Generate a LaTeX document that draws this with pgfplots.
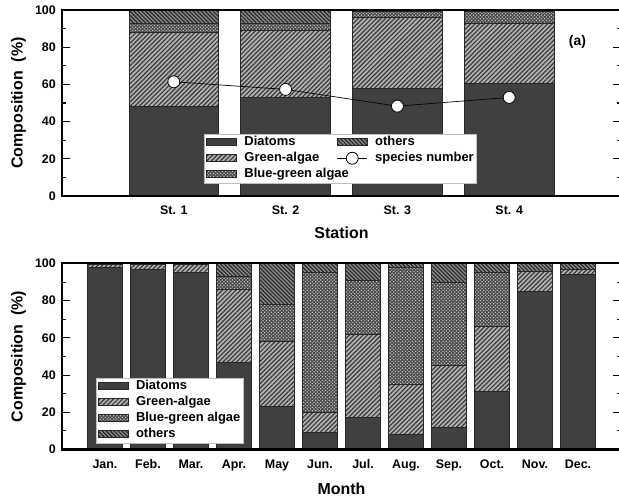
\documentclass[border=0pt]{standalone}
\usepackage{fontspec}
\setmainfont{Liberation Sans}
\usepackage{pgfplots}
\pgfplotsset{compat=1.18}
\usetikzlibrary{patterns.meta}
\definecolor{dia}{HTML}{404040}
\tikzset{
 diat/.style={fill=dia, draw=black!85, line width=0.8bp},
 gre/.style={fill=black!30, draw=black!85, line width=0.8bp, postaction={pattern={Lines[angle=45,distance=3.2bp,line width=1.2bp]}, pattern color=black!78}},
 blu/.style={fill=black!73, draw=black!85, line width=0.8bp, postaction={pattern={Dots[angle=45,distance=2.4bp,radius=0.85bp]}, pattern color=black!22}},
 oth/.style={fill=black!45, draw=black!85, line width=0.8bp, postaction={pattern={Lines[angle=-45,distance=2.8bp,line width=1.2bp]}, pattern color=black!85}},
 spec/.style={black, line width=0.7bp, mark=*, mark size=6bp, mark options={fill=white, draw=black, line width=0.8bp}},
}
\pgfplotsset{
 arealeg/.style={legend image code/.code={\draw[##1] (0bp,-3.5bp) rectangle (30bp,3.5bp);}},
 linelegend/.style={legend image code/.code={\draw[black, line width=0.7bp] (0bp,0bp) -- (30bp,0bp); \draw[black, fill=white, line width=0.8bp] (15bp,0bp) circle (6bp);}},
 comp/.style={
  scale only axis, width=559bp, height=186bp,
  ymin=0, ymax=100, ytick={0,20,...,100}, minor y tick num=1,
  ybar stacked, bar width=0.8,
  tick align=inside, xtick style={draw=none},
  major tick length=8bp, minor tick length=4bp,
  axis line style={line width=2bp},
  every tick/.style={line width=1.1bp, black},
  axis on top,
  /pgf/number format/assume math mode=true,
  tick label style={font=\fontsize{12.5}{13}\selectfont\bfseries},
  yticklabel style={inner sep=0pt, xshift=-6bp},
  xticklabel style={inner sep=0pt, anchor=north, yshift=-10bp},
  every axis x label/.style={at={(axis description cs:0.5,0)}, anchor=north, inner sep=0pt, font=\fontsize{16}{16}\selectfont\bfseries},
  every axis y label/.style={at={(axis description cs:0,0.5)}, xshift=-43.5bp, rotate=90, anchor=center, inner sep=0pt, font=\fontsize{16}{16}\selectfont\bfseries},
  legend cell align=left,
  legend style={draw=black!25, line width=0.4bp, fill=white, inner sep=2bp,
    font=\fontsize{13}{13}\selectfont\bfseries,
    nodes={inner sep=0.5bp, text height=9.5bp, text depth=2.5bp},
    row sep=3bp,
    /tikz/column 1/.style={column sep=7bp},
    /tikz/column 2/.style={column sep=17bp},
    /tikz/column 3/.style={column sep=7bp}},
 }
}
\begin{document}
\begin{tikzpicture}
\useasboundingbox (0,0) rectangle (619bp,499bp);
% ---------- (a) ----------
\begin{axis}[comp, at={(62bp,303bp)}, anchor=south west,
  xmin=0, xmax=5, xtick={1,2,3,4}, xticklabels={St. 1,St. 2,St. 3,St. 4},
  xlabel={Station}, xlabel style={yshift=-31bp},
  ylabel={Composition~~(\%)},
  legend columns=2,
  legend style={at={(0.254,0.07)}, anchor=south west}]
\addlegendimage{diat, arealeg}\addlegendentry{Diatoms}
\addlegendimage{oth, arealeg}\addlegendentry{others}
\addlegendimage{gre, arealeg}\addlegendentry{Green-algae}
\addlegendimage{spec, linelegend}\addlegendentry{species number}
\addlegendimage{blu, arealeg}\addlegendentry{\rlap{Blue-green algae}}
\addplot[diat] coordinates {(1,48) (2,53) (3,58) (4,60.5)};
\addplot[gre]  coordinates {(1,40) (2,36) (3,38) (4,32.5)};
\addplot[blu]  coordinates {(1,5) (2,4) (3,3) (4,6)};
\addplot[oth]  coordinates {(1,7) (2,7) (3,1) (4,1)};
\node[font=\fontsize{14}{14}\selectfont\bfseries] at (axis cs:4.61,83) {(a)};
\end{axis}
\begin{axis}[scale only axis, width=559bp, height=186bp, at={(62bp,303bp)}, anchor=south west,
  xmin=0, xmax=5, ymin=0, ymax=100, hide axis, clip=false]
\addplot[spec] coordinates {(1,61.4) (2,57.3) (3,48.3) (4,53)};
\end{axis}
% ---------- (b) ----------
\begin{axis}[comp, at={(62bp,49.5bp)}, anchor=south west,
  xmin=0, xmax=13, xtick={1,...,12},
  xticklabels={Jan.,Feb.,Mar.,Apr.,May,Jun.,Jul.,Aug.,Sep.,Oct.,Nov.,Dec.},
  xlabel={Month}, xlabel style={yshift=-33.5bp},
  ylabel={Composition~~(\%)},
  legend style={at={(0.060,0.035)}, anchor=south west}]
\addplot[diat, arealeg] coordinates {(1,98) (2,97) (3,95) (4,47) (5,23) (6,9) (7,17) (8,8) (9,12) (10,31) (11,85) (12,94)};
\addlegendentry{Diatoms}
\addplot[gre, arealeg] coordinates {(1,1.5) (2,2.5) (3,4.5) (4,39) (5,35) (6,11) (7,45) (8,27) (9,33) (10,35) (11,10.5) (12,3)};
\addlegendentry{Green-algae}
\addplot[blu, arealeg] coordinates {(1,0) (2,0) (3,0) (4,7) (5,20) (6,75) (7,29) (8,63) (9,45) (10,29) (11,0) (12,0)};
\addlegendentry{Blue-green algae}
\addplot[oth, arealeg] coordinates {(1,0.5) (2,0.5) (3,0.5) (4,7) (5,22) (6,5) (7,9) (8,2) (9,10) (10,5) (11,4.5) (12,3)};
\addlegendentry{others}
\node[white, font=\fontsize{14}{14}\selectfont\bfseries] at (axis cs:12.09,81) {(b)};
\end{axis}
\end{tikzpicture}
\end{document}
